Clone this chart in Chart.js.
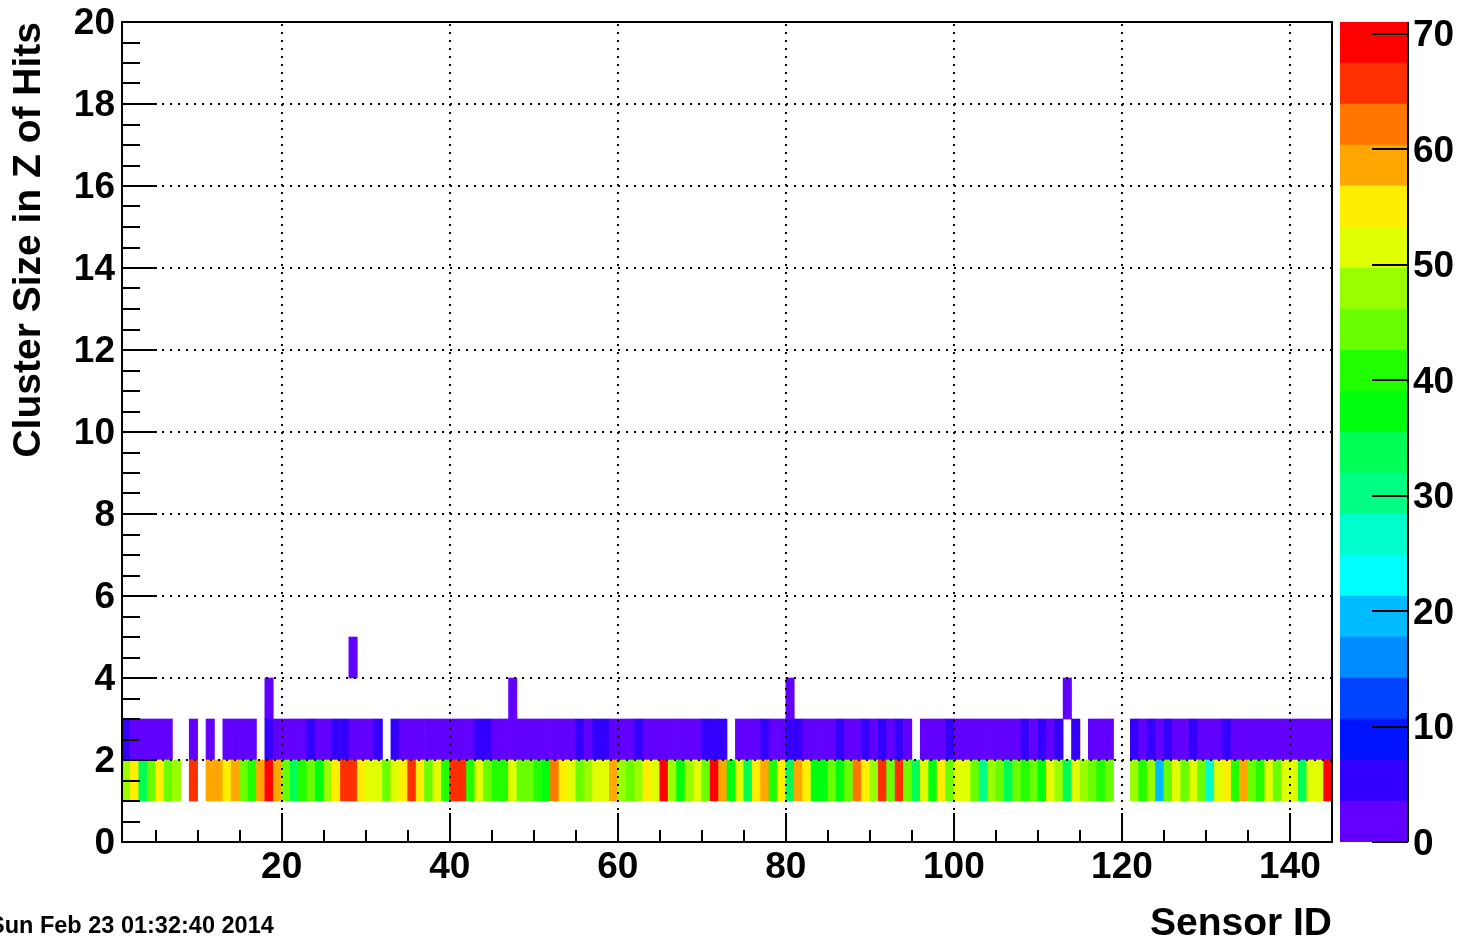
<!DOCTYPE html>
<html>
<head>
<meta charset="utf-8">
<title>Cluster Size in Z of Hits vs Sensor ID</title>
<script src="https://cdn.jsdelivr.net/npm/chart.js@4.4.1/dist/chart.umd.min.js"></script>
<style>
  html, body { margin: 0; padding: 0; background: #fff; overflow: hidden; }
  #wrap { position: relative; width: 1461px; height: 940px; }
  #main { position: absolute; left: 0; top: 0; }
  #palette { position: absolute; left: 1300px; top: 0; }
  #stamp {
    position: absolute; left: -11px; top: 913px;
    font: bold 23.5px "Liberation Sans", Arial, sans-serif;
    line-height: 24px; white-space: nowrap; color: #000;
  }
</style>
</head>
<body>
<div id="wrap">
  <canvas id="main" width="1461" height="940"></canvas>
  <canvas id="palette" width="161" height="940"></canvas>
  <div id="stamp">Sun Feb 23 01:32:40 2014</div>
</div>
<script>
// Hits per sensor (bin i = sensor i, i = 1..144), one array per cluster size row
const size1Counts = [
  48, 55, 34, 44, 55, 44, 48,  0, 66,  0,
  58, 58, 55, 58, 44, 41, 58, 71, 58, 44,
  34, 41, 44, 37, 48, 55, 66, 65, 55, 51,
  52, 44, 51, 55, 66, 55, 44, 51, 41, 66,
  65, 41, 51, 44, 41, 40, 51, 44, 44, 41,
  37, 62, 55, 51, 44, 48, 51, 52, 58, 48,
  44, 48, 55, 51, 69, 48, 37, 48, 51, 44,
  69, 58, 37, 51, 34, 55, 58, 41, 55, 34,
  58, 55, 37, 38, 44, 37, 44, 62, 55, 48,
  66, 44, 65, 44, 34, 51, 37, 55, 44, 51,
  52, 44, 30, 48, 44, 34, 44, 41, 44, 37,
  51, 48, 34, 51, 48, 44, 41, 44,  0,  0,
  48, 41, 48, 19, 44, 51, 44, 51, 44, 27,
  51, 55, 41, 58, 44, 41, 51, 44, 51, 52,
  34, 51, 52, 69
];
const size2Counts = [
  5, 2, 3, 2, 1, 2, 0, 0, 2, 0,
  2, 0, 2, 3, 2, 1, 0, 5, 2, 2,
  3, 2, 5, 2, 2, 5, 4, 1, 2, 3,
  5, 0, 4, 2, 2, 3, 2, 1, 2, 2,
  3, 2, 5, 4, 2, 2, 1, 2, 3, 2,
  2, 1, 2, 2, 5, 2, 4, 5, 2, 3,
  2, 5, 2, 1, 2, 2, 3, 2, 2, 5,
  4, 5, 0, 2, 3, 2, 5, 2, 1, 5,
  4, 2, 2, 3, 2, 5, 2, 1, 5, 2,
  5, 2, 4, 2, 0, 2, 3, 2, 5, 2,
  1, 2, 2, 3, 2, 2, 1, 5, 2, 4,
  2, 5, 0, 4, 0, 2, 3, 2, 0, 0,
  5, 2, 4, 2, 5, 2, 3, 5, 2, 2,
  1, 4, 2, 2, 3, 2, 2, 1, 2, 2,
  3, 2, 2, 1
];
// sparse rows: sensor -> hits
const size3Hits = { 18: 1, 47: 1, 80: 1, 113: 1 };
const size4Hits = { 28: 1 };

const sensorCount = 144;
const xRange = [1, 145];
const yRange = [0, 20];
const xTickValues = [20, 40, 60, 80, 100, 120, 140];
const yTickValues = [0, 2, 4, 6, 8, 10, 12, 14, 16, 18, 20];
const colourTickValues = [0, 10, 20, 30, 40, 50, 60, 70];

// ROOT "pretty" palette, 20 contour levels, low -> high
const palette = [
  '#6200FF', '#3300FF', '#0014FF', '#0044FF', '#008BFF',
  '#00BBFF', '#00FFFC', '#00FFCC', '#00FF85', '#00FF55',
  '#00FF0E', '#22FF00', '#69FF00', '#99FF00', '#E0FF00',
  '#FFEE00', '#FFA700', '#FF7700', '#FF3000', '#FF0000'
];

const FONT = '"Liberation Sans", Arial, Helvetica, sans-serif';

const sensorIds = [];
for (let i = 1; i <= sensorCount; i++) sensorIds.push(i);

const rows = [
  { size: 1, counts: size1Counts },
  { size: 2, counts: size2Counts },
  { size: 3, counts: sensorIds.map(id => size3Hits[id] || 0) },
  { size: 4, counts: sensorIds.map(id => size4Hits[id] || 0) },
];

const zMax = Math.max(...rows.map(r => Math.max(...r.counts)));
const levelWidth = zMax / palette.length;

function levelColour(v) {
  return palette[Math.min(palette.length - 1, Math.floor(v / levelWidth))];
}

// keep the plot frame exactly where the padding puts it (no room for label overhang)
function fixBox(size) {
  return s => {
    if (s.isHorizontal()) s.height = size; else s.width = size;
    s.paddingTop = 0; s.paddingBottom = 0; s.paddingLeft = 0; s.paddingRight = 0;
  };
}

// frame, dotted grid and inward ticks, drawn over the cells like ROOT does
const rootAxes = {
  id: 'rootAxes',
  afterDatasetsDraw(chart) {
    const { ctx, chartArea: a, scales: { x, y } } = chart;
    ctx.save();
    ctx.strokeStyle = '#000';
    ctx.lineWidth = 2;

    ctx.setLineDash([2, 6]);
    ctx.beginPath();
    xTickValues.forEach(v => {
      const px = Math.round(x.getPixelForValue(v));
      ctx.moveTo(px, a.bottom); ctx.lineTo(px, a.top);
    });
    yTickValues.filter(v => v > yRange[0] && v < yRange[1]).forEach(v => {
      const py = Math.round(y.getPixelForValue(v));
      ctx.moveTo(a.left, py); ctx.lineTo(a.right, py);
    });
    ctx.stroke();
    ctx.setLineDash([]);

    ctx.beginPath();
    for (let v = Math.ceil(x.min / 5) * 5; v <= x.max; v += 5) {
      const px = Math.round(x.getPixelForValue(v));
      const len = xTickValues.includes(v) ? 29 : 12;
      ctx.moveTo(px, a.bottom); ctx.lineTo(px, a.bottom - len);
    }
    for (let v = y.min; v <= y.max; v += 0.5) {
      const py = Math.round(y.getPixelForValue(v));
      const len = yTickValues.includes(v) ? 35 : 18;
      ctx.moveTo(a.left, py); ctx.lineTo(a.left + len, py);
    }
    ctx.stroke();

    ctx.strokeRect(a.left, a.top, a.right - a.left, a.bottom - a.top);
    ctx.restore();
  }
};

const paletteAxis = {
  id: 'paletteAxis',
  afterDatasetsDraw(chart) {
    const { ctx, chartArea: a, scales: { y } } = chart;
    ctx.save();
    ctx.strokeStyle = '#000';
    ctx.lineWidth = 2;
    ctx.beginPath();
    ctx.moveTo(a.right, a.top); ctx.lineTo(a.right, a.bottom);
    colourTickValues.forEach(v => {
      const py = Math.round(y.getPixelForValue(v));
      ctx.moveTo(a.right, py); ctx.lineTo(a.right - 36, py);
    });
    ctx.stroke();
    ctx.restore();
  }
};

const tickFont = { family: FONT, size: 37, weight: 'bold', lineHeight: 1 };
const yTitleFont = { family: FONT, size: 39, weight: 'bold', lineHeight: 1 };
const xTitleFont = { family: FONT, size: 39, weight: 'bold', lineHeight: 0.8 };

new Chart(document.getElementById('main'), {
  type: 'bar',
  data: {
    datasets: rows.map(row => ({
      label: 'Cluster size ' + row.size,
      data: sensorIds
        .map((id, i) => ({ x: id + 0.5, y: [row.size, row.size + 1], count: row.counts[i] }))
        .filter(p => p.count > 0),
      backgroundColor: ctx => (ctx.raw ? levelColour(ctx.raw.count) : 'rgba(0,0,0,0)'),
      borderWidth: 0,
      grouped: false,
      barPercentage: 1,
      categoryPercentage: 1,
    })),
  },
  options: {
    responsive: false,
    animation: false,
    devicePixelRatio: 1,
    events: [],
    layout: { padding: { left: 0, right: 129, top: 22, bottom: 0 } },
    plugins: { legend: { display: false }, tooltip: { enabled: false } },
    scales: {
      x: {
        type: 'linear',
        min: xRange[0],
        max: xRange[1],
        offset: false,
        afterFit: fixBox(98),
        afterBuildTicks: s => { s.ticks = xTickValues.map(v => ({ value: v })); },
        grid: { display: false, drawTicks: false },
        border: { display: false },
        ticks: { font: tickFont, color: '#000', padding: 7, autoSkip: false, maxRotation: 0 },
        title: {
          display: true, text: 'Sensor ID', align: 'end', color: '#000',
          font: xTitleFont, padding: { top: 0, bottom: 0 },
        },
      },
      y: {
        type: 'linear',
        min: yRange[0],
        max: yRange[1],
        afterFit: fixBox(122),
        afterBuildTicks: s => { s.ticks = yTickValues.map(v => ({ value: v })); },
        grid: { display: false, drawTicks: false },
        border: { display: false },
        ticks: { font: tickFont, color: '#000', padding: 7, labelOffset: 2, autoSkip: false },
        title: {
          display: true, text: 'Cluster Size in Z of Hits', align: 'end', color: '#000',
          font: yTitleFont, padding: { top: 10, bottom: 0 },
        },
      },
    },
  },
  plugins: [rootAxes],
});

new Chart(document.getElementById('palette'), {
  type: 'bar',
  data: {
    labels: [''],
    datasets: palette.map((c, k) => ({
      data: [[k * levelWidth, (k + 1) * levelWidth]],
      backgroundColor: c,
      borderWidth: 0,
      grouped: false,
      barPercentage: 1,
      categoryPercentage: 1,
    })),
  },
  options: {
    responsive: false,
    animation: false,
    devicePixelRatio: 1,
    events: [],
    layout: { padding: { left: 40, right: 0, top: 22, bottom: 98 } },
    plugins: { legend: { display: false }, tooltip: { enabled: false } },
    scales: {
      x: { display: false },
      y: {
        position: 'right',
        min: 0,
        max: zMax,
        afterFit: fixBox(53),
        afterBuildTicks: s => { s.ticks = colourTickValues.map(v => ({ value: v })); },
        grid: { display: false, drawTicks: false },
        border: { display: false },
        ticks: { font: tickFont, color: '#000', padding: 5, labelOffset: 2.5, autoSkip: false },
      },
    },
  },
  plugins: [paletteAxis],
});
</script>
</body>
</html>
